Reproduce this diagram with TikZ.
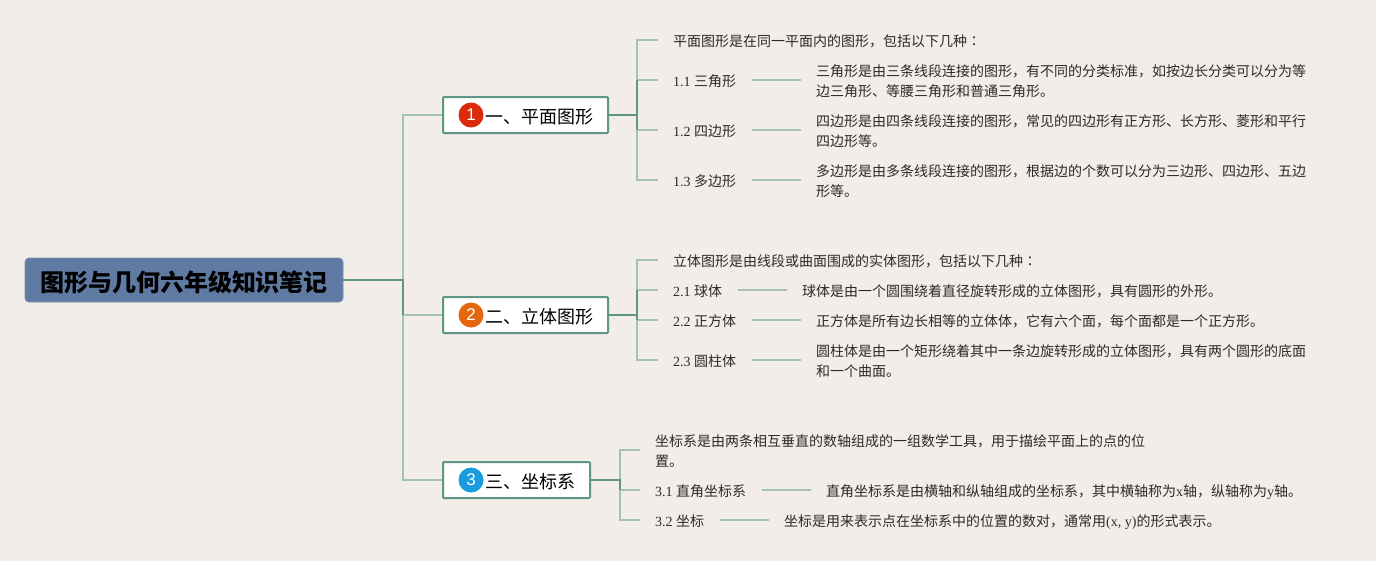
\documentclass[tikz,border=0pt]{standalone}
\usepackage{fontspec}
\setmainfont{Noto Sans CJK SC}
\newfontfamily\latfont{Liberation Serif}
\newfontfamily\numfont{Liberation Sans}
\newfontfamily\colonfont{Noto Sans CJK TC}
\definecolor{paper}{HTML}{F2EDE8}
\definecolor{rootblue}{HTML}{5F7AA3}
\definecolor{darkline}{HTML}{5F9685}
\definecolor{lightline}{HTML}{A3C2B3}
\definecolor{inktext}{HTML}{2B2B2B}
\definecolor{badgered}{HTML}{DC2A0C}
\definecolor{badgeorange}{HTML}{E4670F}
\definecolor{badgeblue}{HTML}{1A9BE0}
\tikzset{
  rootbox/.style={fill=rootblue,draw=rootblue!85!white,rounded corners=4pt,line width=0.8pt,minimum width=318pt,minimum height=44pt,inner sep=0pt,text=black,text height=25.5pt,text depth=3pt,font=\fontsize{24}{28}\selectfont\bfseries},
  branchbox/.style={fill=white,draw=darkline,rounded corners=1pt,line width=2pt,minimum height=36pt,inner sep=0pt},
  badge/.style={circle,minimum size=25pt,inner sep=0pt,text=white,font=\numfont\fontsize{17}{20}\selectfont},
  branchtext/.style={anchor=west,inner sep=0pt,text=black,font=\fontsize{18}{22}\selectfont},
  leaf/.style={anchor=west,inner ysep=0pt,inner xsep=15.5pt,text=inktext,text height=14pt,text depth=2pt,font=\fontsize{14}{20}\selectfont},
  detail/.style={anchor=west,inner ysep=0pt,inner xsep=15.5pt,text=inktext,align=left,font=\fontsize{14}{20}\selectfont},
  main/.style={draw=darkline,line width=2pt},
  twig/.style={draw=lightline,line width=1.7pt},
}
\begin{document}
\begin{tikzpicture}[x=1pt,y=-1pt]
    \useasboundingbox (0,0) rectangle (1376,560);
    \fill[paper] (-2,-2) rectangle (1378,562);
    % root and branches
    \coordinate (trunk) at (403,280);
    \coordinate (fork1) at (637,115);
    \coordinate (fork2) at (637,315);
    \coordinate (fork3) at (620,480);
    \node[rootbox] (root) at (184,280) {图形与几何六年级知识笔记};
    \node[branchbox,minimum width=165pt] (b1) at (525.5,115) {};
    \node[branchbox,minimum width=165pt] (b2) at (525.5,315) {};
    \node[branchbox,minimum width=147pt] (b3) at (516.5,480) {};
    \node[badge,fill=badgered] (n1) at (471,115) {1};
    \node[badge,fill=badgeorange] (n2) at (471,315) {2};
    \node[badge,fill=badgeblue] (n3) at (471,480) {3};
    \node[branchtext] (t1) at (485,117) {一、平面图形};
    \node[branchtext] (t2) at (485,317) {二、立体图形};
    \node[branchtext] (t3) at (485,482) {三、坐标系};
    % first branch
    \node[leaf] (a0) at (657.5,40) {平面图形是在同一平面内的图形，包括以下几种{\colonfont ：}};
    \node[leaf] (a1) at (657.5,80) {{\latfont 1.1 }三角形};
    \node[leaf] (a2) at (657.5,130) {{\latfont 1.2 }四边形};
    \node[leaf] (a3) at (657.5,180) {{\latfont 1.3 }多边形};
    \node[detail] (d1) at (800.5,81) {三角形是由三条线段连接的图形，有不同的分类标准，如按边长分类可以分为等\\边三角形、等腰三角形和普通三角形。};
    \node[detail] (d2) at (800.5,131) {四边形是由四条线段连接的图形，常见的四边形有正方形、长方形、菱形和平行\\四边形等。};
    \node[detail] (d3) at (800.5,181) {多边形是由多条线段连接的图形，根据边的个数可以分为三边形、四边形、五边\\形等。};
    % second branch
    \node[leaf] (c0) at (657.5,260) {立体图形是由线段或曲面围成的实体图形，包括以下几种{\colonfont ：}};
    \node[leaf] (c1) at (657.5,290) {{\latfont 2.1 }球体};
    \node[leaf] (c2) at (657.5,320) {{\latfont 2.2 }正方体};
    \node[leaf] (c3) at (657.5,360) {{\latfont 2.3 }圆柱体};
    \node[leaf] (e1) at (786.5,290) {球体是由一个圆围绕着直径旋转形成的立体图形，具有圆形的外形。};
    \node[leaf] (e2) at (800.5,320) {正方体是所有边长相等的立体体，它有六个面，每个面都是一个正方形。};
    \node[detail] (e3) at (800.5,361) {圆柱体是由一个矩形绕着其中一条边旋转形成的立体图形，具有两个圆形的底面\\和一个曲面。};
    % third branch
    \coordinate (tick3) at (639.5,450);
    \node[detail] (g0) at (639.5,451) {坐标系是由两条相互垂直的数轴组成的一组数学工具，用于描绘平面上的点的位\\置。};
    \node[leaf] (g1) at (639.5,490) {{\latfont 3.1 }直角坐标系};
    \node[leaf] (g2) at (639.5,520) {{\latfont 3.2 }坐标};
    \node[leaf] (h1) at (810.5,490) {直角坐标系是由横轴和纵轴组成的坐标系，其中横轴称为{\latfont x}轴，纵轴称为{\latfont y}轴。};
    \node[leaf] (h2) at (768.5,520) {坐标是用来表示点在坐标系中的位置的数对，通常用{\latfont (x, y)}的形式表示。};
    % connectors
    \foreach \b in {b1,b3} \draw[twig] (trunk) |- (\b.west);
    \draw[twig] (trunk) |- (b2.west);
    \foreach \l in {a0,a1,a2,a3} \draw[twig] (fork1) |- (\l.west);
    \foreach \l in {c0,c1,c2,c3} \draw[twig] (fork2) |- (\l.west);
    \foreach \l in {g1,g2} \draw[twig] (fork3) |- (\l.west);
    \draw[twig] (fork3) |- (tick3);
    \draw[twig] (a1.east) -- (a1.east -| d1.west);
    \draw[twig] (a2.east) -- (a2.east -| d2.west);
    \draw[twig] (a3.east) -- (a3.east -| d3.west);
    \draw[twig] (c1.east) -- (e1.west);
    \draw[twig] (c2.east) -- (e2.west);
    \draw[twig] (c3.east) -- (c3.east -| e3.west);
    \draw[twig] (g1.east) -- (h1.west);
    \draw[twig] (g2.east) -- (h2.west);
    \draw[main] (root.east) -- (trunk) -- (b2.west -| trunk);
    \draw[main] (b1.east) -- (fork1) -- (a1.west -| fork1);
    \draw[main] (fork1) -- (a2.west -| fork1);
    \draw[main] (b2.east) -- (fork2);
    \draw[main] (c1.west -| fork2) -- (c2.west -| fork2);
    \draw[main] (b3.east) -- (fork3) -- (g1.west -| fork3);
\end{tikzpicture}
\end{document}
